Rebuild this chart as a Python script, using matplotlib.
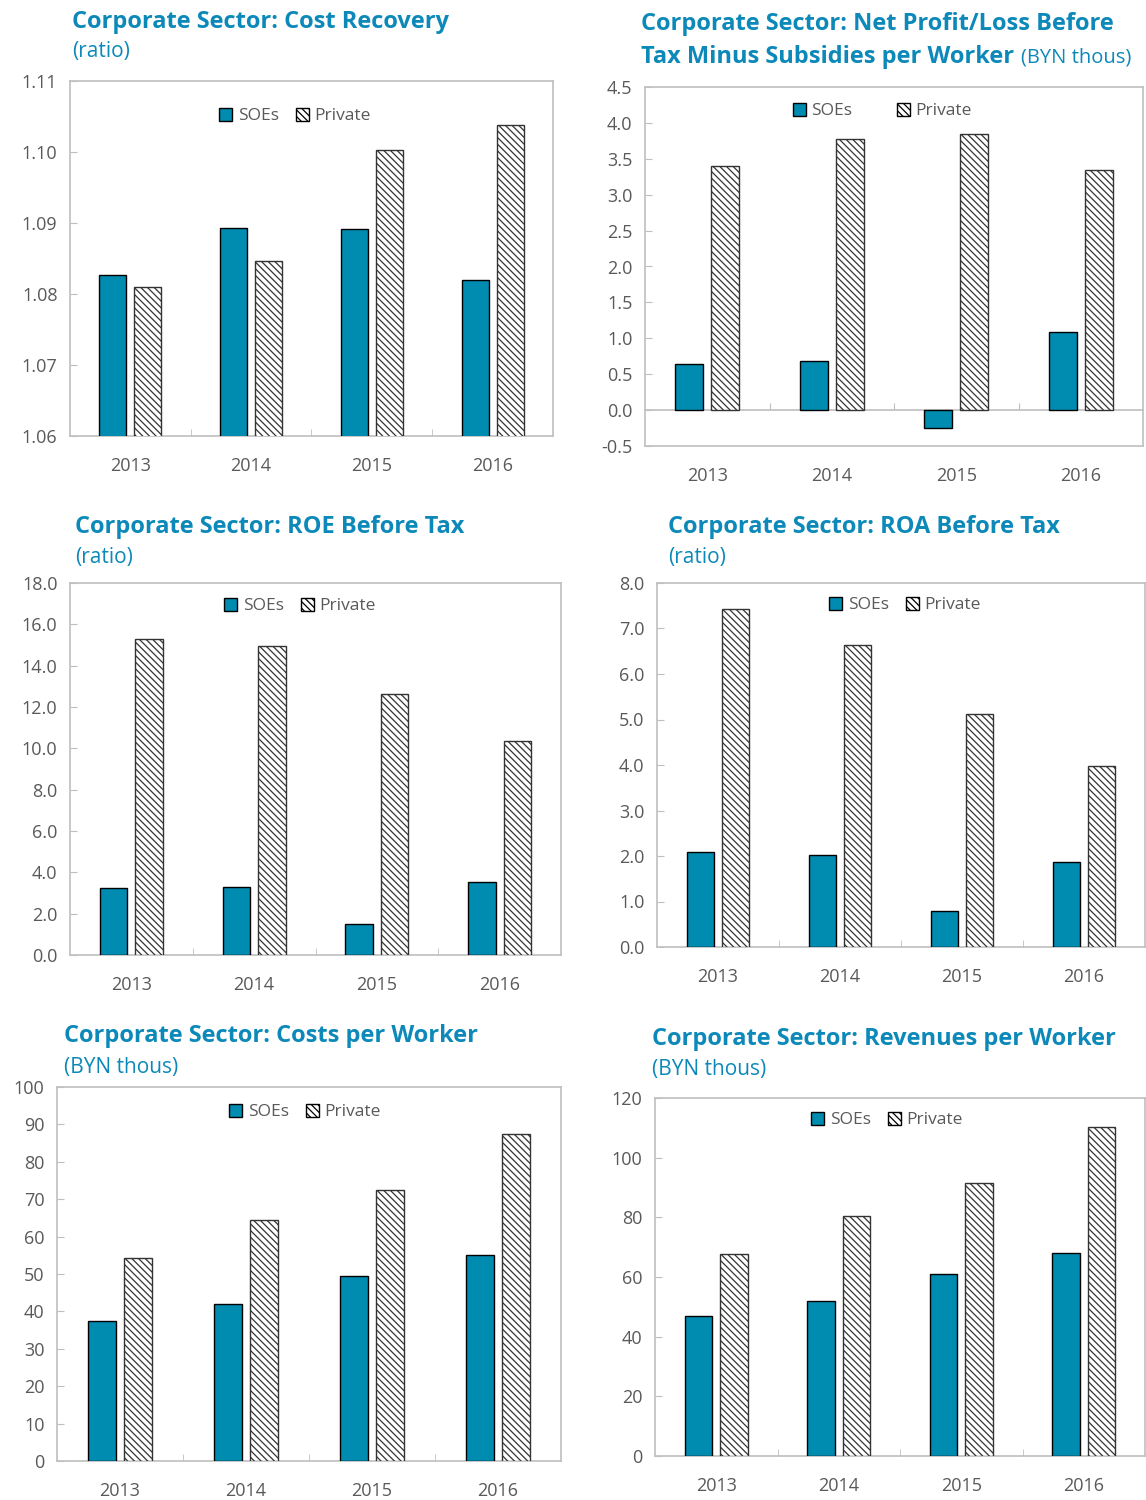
import numpy as np
import matplotlib.pyplot as plt
from matplotlib.patches import Patch

plt.rcParams['font.family'] = ['Open Sans', 'DejaVu Sans']
plt.rcParams['hatch.linewidth'] = 0.9

W, H = 1146, 1500
TEAL = '#008BB0'
TITLE = '#0C89B9'
GRAY_TXT = '#595959'
GRAY_LN = '#BFBFBF'
HATCH = '\\' * 5

years = ['2013', '2014', '2015', '2016']

cost_soe = [1.0827, 1.0893, 1.0892, 1.0820]
cost_priv = [1.0810, 1.0846, 1.1003, 1.1038]

profit_soe = [0.64, 0.68, -0.25, 1.09]
profit_priv = [3.40, 3.77, 3.84, 3.34]

roe_soe = [3.24, 3.29, 1.50, 3.53]
roe_priv = [15.29, 14.95, 12.63, 10.35]

roa_soe = [2.09, 2.02, 0.79, 1.87]
roa_priv = [7.43, 6.64, 5.12, 3.98]

costw_soe = [37.4, 42.0, 49.5, 55.1]
costw_priv = [54.3, 64.4, 72.5, 87.4]

revw_soe = [46.9, 52.0, 61.0, 68.0]
revw_priv = [67.7, 80.5, 91.5, 110.3]

fig = plt.figure(figsize=(W / 100, H / 100), dpi=100)


def px_axes(x0, y0, x1, y1):
    return fig.add_axes([x0 / W, 1 - y1 / H, (x1 - x0) / W, (y1 - y0) / H])


def panel(box, soe, priv, ylim, step, fmt, leg_xy, colsp=1.0, zero_line=False):
    ax = px_axes(*box)
    x = np.arange(len(years))
    w = 0.225
    ax.bar(x - 0.145, soe, w, color=TEAL, edgecolor='black', linewidth=1.0, zorder=3)
    ax.bar(x + 0.145, priv, w, color='white', edgecolor='#333333', hatch=HATCH,
           linewidth=1.0, zorder=3)
    ax.set_xlim(-0.5, len(years) - 0.5)
    ax.set_ylim(*ylim)
    ax.set_yticks(np.arange(ylim[0], ylim[1] + step / 2, step))
    ax.yaxis.set_major_formatter(plt.FormatStrFormatter(fmt))
    ax.set_xticks(x)
    ax.set_xticklabels(years)
    for s in ax.spines.values():
        s.set_color(GRAY_LN)
        s.set_linewidth(1.2)
    ax.tick_params(axis='y', direction='in', length=5, color=GRAY_LN,
                   labelcolor=GRAY_TXT, labelsize=13, pad=9)
    ax.tick_params(axis='x', which='major', length=0, labelcolor=GRAY_TXT,
                   labelsize=13, pad=15)
    bounds = np.arange(0.5, len(years) - 1, 1.0)
    if zero_line:
        sec = ax.secondary_xaxis(0, transform=ax.transData)
        sec.set_xticks(bounds)
        sec.set_xticklabels([])
        sec.tick_params(direction='in', length=5, color=GRAY_LN)
        sec.spines['bottom'].set_color(GRAY_LN)
        sec.spines['bottom'].set_linewidth(1.2)
    else:
        ax.set_xticks(bounds, minor=True)
        ax.tick_params(axis='x', which='minor', direction='in', length=5, color=GRAY_LN)
    handles = [Patch(facecolor=TEAL, edgecolor='black', label='SOEs'),
               Patch(facecolor='white', edgecolor='black', hatch=HATCH, label='Private')]
    ax.legend(handles=handles, loc='center', ncol=2, frameon=False,
              bbox_to_anchor=(leg_xy[0] / W, 1 - leg_xy[1] / H),
              bbox_transform=fig.transFigure, handlelength=0.75, handleheight=0.75,
              handletextpad=0.3, columnspacing=colsp, fontsize=12.5,
              labelcolor=GRAY_TXT, borderpad=0)
    return ax


def title(x, y, text, sub=None, sub_y=None, inline=None):
    t = fig.text(x / W, 1 - y / H, text, color=TITLE, fontsize=17, fontweight='bold',
                 va='center', ha='left')
    if sub:
        fig.text(x / W, 1 - sub_y / H, sub, color=TITLE, fontsize=15, va='center', ha='left')
    if inline:
        fig.canvas.draw()
        bb = t.get_window_extent()
        fig.text((bb.x1 + 7) / W, 1 - y / H, inline, color=TITLE, fontsize=14.5,
                 va='center', ha='left')


panel((70, 81, 553, 436), cost_soe, cost_priv, (1.06, 1.11), 0.01, '%.2f', (295, 116))
title(72, 22, 'Corporate Sector: Cost Recovery', '(ratio)', 52)

panel((645, 87, 1143, 446), profit_soe, profit_priv, (-0.5, 4.5), 0.5, '%.1f', (882, 111),
      colsp=2.6, zero_line=True)
title(641, 24, 'Corporate Sector: Net Profit/Loss Before')
title(641, 57, 'Tax Minus Subsidies per Worker', inline='(BYN thous)')

panel((70, 583, 561, 955), roe_soe, roe_priv, (0, 18), 2, '%.1f', (300, 606))
title(75, 527, 'Corporate Sector: ROE Before Tax', '(ratio)', 558)

panel((657, 583, 1145, 947), roa_soe, roa_priv, (0, 8), 1, '%.1f', (905, 605))
title(668, 527, 'Corporate Sector: ROA Before Tax', '(ratio)', 558)

panel((57, 1087, 561, 1461), costw_soe, costw_priv, (0, 100), 10, '%d', (305, 1112))
title(64, 1036, 'Corporate Sector: Costs per Worker', '(BYN thous)', 1067)

panel((655, 1098, 1145, 1456), revw_soe, revw_priv, (0, 120), 20, '%d', (887, 1120))
title(652, 1039, 'Corporate Sector: Revenues per Worker', '(BYN thous)', 1069)

fig.savefig('out.png', dpi=100)
